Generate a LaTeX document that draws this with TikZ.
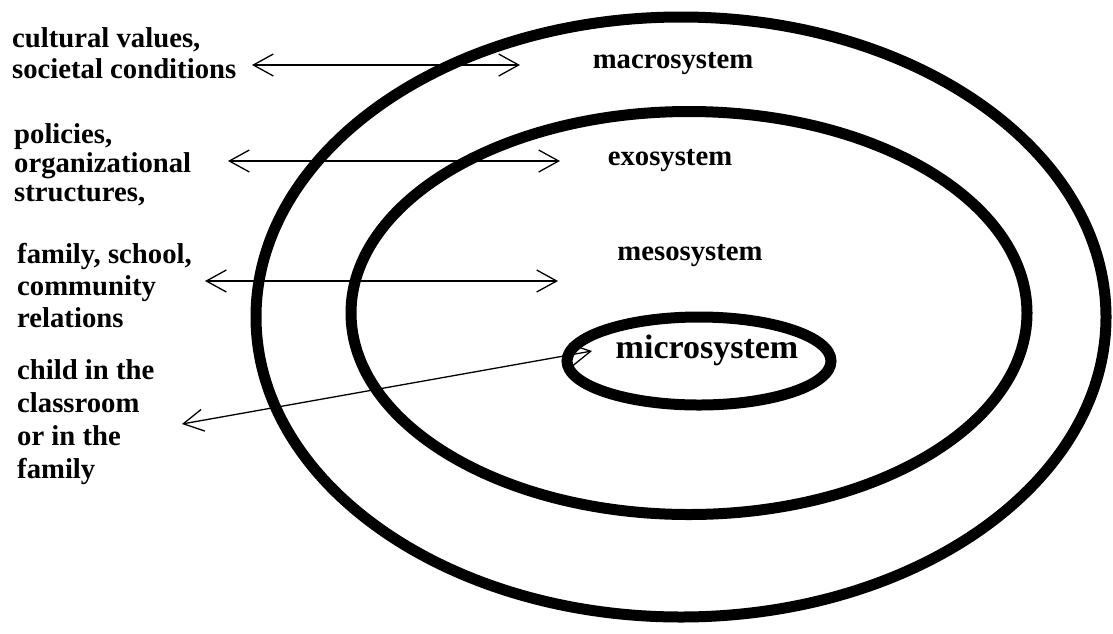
\documentclass[tikz,border=0pt]{standalone}
\usepackage{fontspec}
\setmainfont{Liberation Serif}
\usetikzlibrary{shapes.geometric,arrows.meta}
\begin{document}
\begin{tikzpicture}[x=1pt,y=-1pt,
  ring/.style={draw, ellipse, line width=11pt, inner sep=0pt},
  lbl/.style={font=\fontsize{28.7}{32}\selectfont\bfseries, align=left, anchor=base west, inner sep=0pt},
  sys/.style={font=\fontsize{28.7}{32}\selectfont\bfseries, anchor=base, inner sep=0pt},
  link/.style={line width=1.3pt, {Straight Barb[length=20pt,width=22pt]}-{Straight Barb[length=20pt,width=22pt]}}]
\useasboundingbox (0,0) rectangle (1113,633);
% ellipses
\node[ring, minimum width=850pt, minimum height=600pt] (macro) at (681,317) {};
\node[ring, minimum width=676pt, minimum height=403pt] (exo) at (689,313) {};
\node[ring, minimum width=264pt, minimum height=88pt] (micro) at (699,361) {};
% system names
\node[sys] (tmacro) at (673,68) {macrosystem};
\node[sys] (texo) at (670,165) {exosystem};
\node[sys] (tmeso) at (690,260) {mesosystem};
\node[sys, font=\fontsize{34}{36}\selectfont\bfseries] (tmicro) at (707,358) {microsystem};
% left labels (anchored at the baseline of their last line)
\node[lbl, font=\fontsize{28.7}{31}\selectfont\bfseries] (l1) at (12,78) {cultural values,\\societal conditions};
\node[lbl, font=\fontsize{28.7}{29}\selectfont\bfseries] (l2) at (14,201) {policies,\\organizational\\structures,};
\node[lbl] (l3) at (17,327) {family, school,\\community\\relations};
\node[lbl, font=\fontsize{28.7}{33}\selectfont\bfseries] (l4) at (17,478) {child in the\\classroom\\or in the\\family};
% arrow end points
\coordinate (a1l) at (252,65);  \coordinate (a1r) at (520,65);
\coordinate (a2l) at (228,161); \coordinate (a2r) at (560,161);
\coordinate (a3l) at (205,281); \coordinate (a3r) at (558,281);
\coordinate (a4l) at (182,424); \coordinate (a4r) at (592,351);
\draw[link] (a1l) -- (a1r);
\draw[link] (a2l) -- (a2r);
\draw[link] (a3l) -- (a3r);
\draw[link] (a4l) -- (a4r);
\end{tikzpicture}
\end{document}
